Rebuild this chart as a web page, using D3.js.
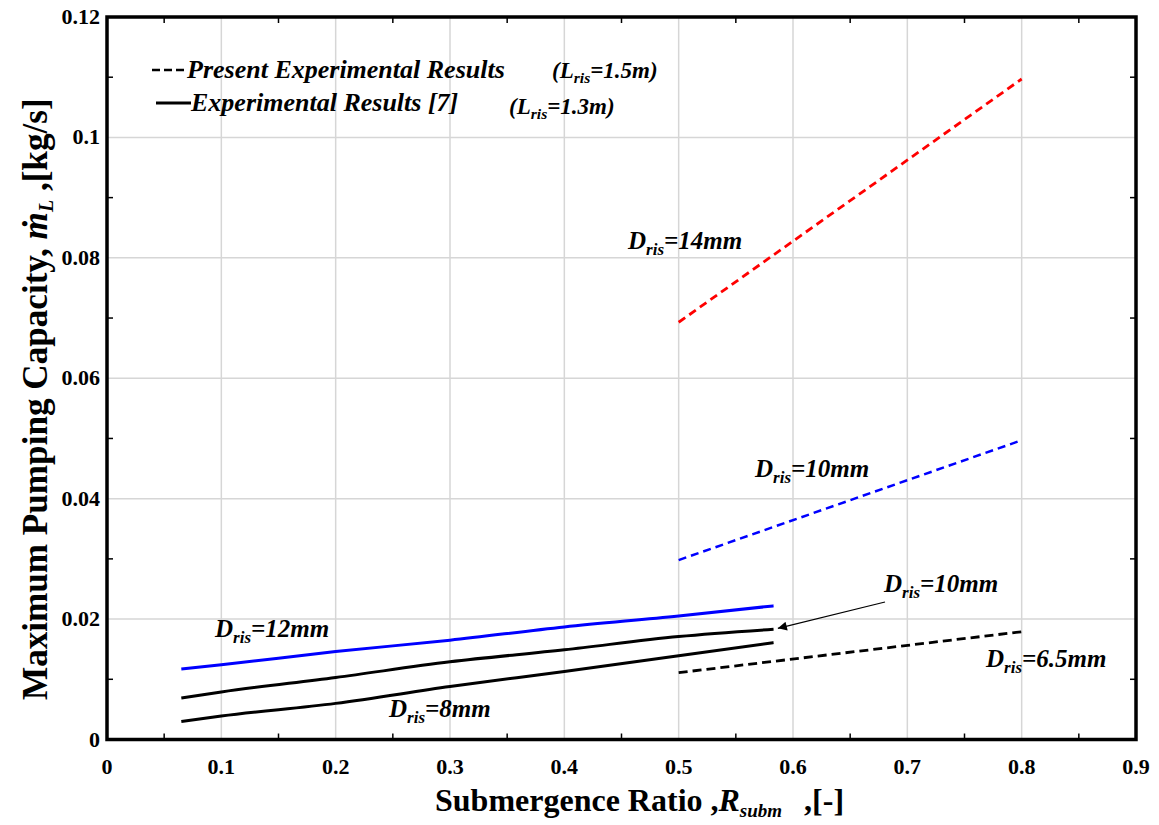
<!DOCTYPE html>
<html>
<head>
<meta charset="utf-8">
<script src="https://cdn.jsdelivr.net/npm/d3@7"></script>
<style>
  body { margin: 0; background: #fff; }
</style>
</head>
<body>
<div id="chart"></div>
<script>
// experimental results [7], Lris = 1.3m (solid lines)
var xSolid = [0.065, 0.1, 0.2, 0.3, 0.4, 0.5, 0.583];
var d12Solid = [0.0117, 0.0124, 0.0146, 0.0165, 0.0187, 0.0205, 0.0222];
var d10Solid = [0.0069, 0.0079, 0.0103, 0.0129, 0.0149, 0.0171, 0.0183];
var d8Solid = [0.0030, 0.0039, 0.0060, 0.0088, 0.0113, 0.0139, 0.0161];

// present experimental results, Lris = 1.5m (dashed lines)
var xDash = [0.5, 0.8];
var d14Dash = [0.0693, 0.1097];
var d10Dash = [0.0298, 0.0497];
var d65Dash = [0.0111, 0.0179];

var xTicks = [0, 0.1, 0.2, 0.3, 0.4, 0.5, 0.6, 0.7, 0.8, 0.9];
var yTicks = [0, 0.02, 0.04, 0.06, 0.08, 0.1, 0.12];
var yTickLabels = ["0", "0.02", "0.04", "0.06", "0.08", "0.1", "0.12"];

var FONT = "Liberation Serif";

var W = 1159, H = 825;
var margin = { top: 17, right: 23, bottom: 85.5, left: 107 };
var width = W - margin.left - margin.right,
    height = H - margin.top - margin.bottom;

var svg = d3.select("#chart").append("svg")
    .attr("width", W).attr("height", H);
var g = svg.append("g")
    .attr("transform", "translate(" + margin.left + "," + margin.top + ")");

var x = d3.scaleLinear().domain([0, 0.9]).range([0, width]);
var y = d3.scaleLinear().domain([0, 0.12]).range([height, 0]);

// bold serif text, set on every element
function txt(parent, px, py, size) {
    return parent.append("text").attr("x", px).attr("y", py)
        .attr("font-family", FONT).attr("font-weight", "bold")
        .attr("font-size", size);
}

// grid
g.append("g").selectAll("line").data(xTicks.slice(1, -1)).enter().append("line")
    .attr("x1", d => x(d)).attr("x2", d => x(d))
    .attr("y1", 0).attr("y2", height)
    .attr("stroke", "#d6d6d6").attr("stroke-width", 1.5);
g.append("g").selectAll("line").data(yTicks.slice(1, -1)).enter().append("line")
    .attr("y1", d => y(d)).attr("y2", d => y(d))
    .attr("x1", 0).attr("x2", width)
    .attr("stroke", "#d6d6d6").attr("stroke-width", 1.5);

// inner minor ticks on all four sides
var xMinor = d3.range(0.05, 0.9, 0.1);
var yMinor = d3.range(0.01, 0.12, 0.02);
var tk = g.append("g").attr("stroke", "#000").attr("stroke-width", 1.5);
xMinor.forEach(function (v) {
    tk.append("line").attr("x1", x(v)).attr("x2", x(v)).attr("y1", height).attr("y2", height - 6);
    tk.append("line").attr("x1", x(v)).attr("x2", x(v)).attr("y1", 0).attr("y2", 6);
});
yMinor.forEach(function (v) {
    tk.append("line").attr("y1", y(v)).attr("y2", y(v)).attr("x1", 0).attr("x2", 6);
    tk.append("line").attr("y1", y(v)).attr("y2", y(v)).attr("x1", width).attr("x2", width - 6);
});

// tick labels
xTicks.forEach(function (d) {
    txt(g, x(d), height + 34, 22).attr("text-anchor", "middle").text(d);
});
yTicks.forEach(function (d, i) {
    txt(g, -7, y(d) + 7, 22).attr("text-anchor", "end").text(yTickLabels[i]);
});

// lines
function zip(xs, ys) { return xs.map((v, i) => [v, ys[i]]); }
var line = d3.line().curve(d3.curveMonotoneX).x(d => x(d[0])).y(d => y(d[1]));

var series = [
    { data: zip(xDash, d14Dash), color: "#ff0000", dash: "8,5", w: 2.8 },
    { data: zip(xDash, d10Dash), color: "#0000ff", dash: "8,5", w: 2.5 },
    { data: zip(xDash, d65Dash), color: "#000", dash: "9,5", w: 2.8 },
    { data: zip(xSolid, d12Solid), color: "#0000ff", dash: null, w: 3 },
    { data: zip(xSolid, d10Solid), color: "#000", dash: null, w: 3 },
    { data: zip(xSolid, d8Solid), color: "#000", dash: null, w: 3 }
];
series.forEach(function (s) {
    g.append("path").datum(s.data)
        .attr("fill", "none").attr("stroke", s.color)
        .attr("stroke-width", s.w)
        .attr("stroke-dasharray", s.dash)
        .attr("d", line);
});

// frame
g.append("rect").attr("x", 0).attr("y", 0).attr("width", width).attr("height", height)
    .attr("fill", "none").attr("stroke", "#000").attr("stroke-width", 3.5);

// labels with subscript
function subLabel(px, py, main, sub, rest, size) {
    var t = txt(svg, px, py, size).attr("font-style", "italic");
    t.append("tspan").text(main);
    t.append("tspan").attr("font-size", size * 0.68).attr("dy", size * 0.22).text(sub);
    t.append("tspan").attr("dy", -size * 0.22).text(rest);
    return t;
}
subLabel(628, 249, "D", "ris", "=14mm", 25);
subLabel(755, 477, "D", "ris", "=10mm", 25);
subLabel(884, 592, "D", "ris", "=10mm", 25);
subLabel(986, 667, "D", "ris", "=6.5mm", 25);
subLabel(215, 637, "D", "ris", "=12mm", 25);
subLabel(389, 717, "D", "ris", "=8mm", 25);

// arrow to the 10mm solid curve
svg.append("defs").append("marker").attr("id", "arr")
    .attr("viewBox", "0 0 10 10").attr("refX", 10).attr("refY", 5)
    .attr("markerWidth", 12).attr("markerHeight", 9).attr("markerUnits", "userSpaceOnUse")
    .attr("orient", "auto")
    .append("path").attr("d", "M0,0 L10,5 L0,10 z").attr("fill", "#000");
svg.append("line")
    .attr("x1", 885).attr("y1", 602)
    .attr("x2", x(0.585) + margin.left + 2).attr("y2", y(0.0183) + margin.top - 1)
    .attr("stroke", "#000").attr("stroke-width", 1.2)
    .attr("marker-end", "url(#arr)");

// legend
svg.append("line").attr("x1", 152).attr("x2", 186).attr("y1", 70).attr("y2", 70)
    .attr("stroke", "#000").attr("stroke-width", 2.5).attr("stroke-dasharray", "8,4");
svg.append("line").attr("x1", 156).attr("x2", 191).attr("y1", 103).attr("y2", 103)
    .attr("stroke", "#000").attr("stroke-width", 3);
txt(svg, 187, 78, 26).attr("font-style", "italic").text("Present Experimental Results");
txt(svg, 191, 111, 26).attr("font-style", "italic").text("Experimental Results [7]");
subLabel(552, 78, "(L", "ris", "=1.5m)", 23);
subLabel(509, 114, "(L", "ris", "=1.3m)", 23);

// x axis title, fitted to span 435..848
var xt = txt(svg, 435, 811, 28);
xt.append("tspan").text("Submergence Ratio ,");
xt.append("tspan").attr("font-style", "italic").text("R");
xt.append("tspan").attr("font-style", "italic").attr("font-size", 19).attr("dy", 6).text("subm");
xt.append("tspan").attr("dy", -6).attr("dx", 22).text(",[-]");
var xw = xt.node().getComputedTextLength();
xt.attr("font-size", Math.min(32, 28 * 413 / xw));

// y axis title, fitted to span y 700..95
var yt = txt(svg, 0, 0, 28).attr("transform", "translate(47,700) rotate(-90)");
yt.append("tspan").text("Maximum Pumping Capacity, ");
yt.append("tspan").attr("font-style", "italic").text("ṁ");
yt.append("tspan").attr("font-style", "italic").attr("font-size", 20).attr("dy", 6).text("L");
yt.append("tspan").attr("dy", -6).text(" ,[kg/s]");
var yw = yt.node().getComputedTextLength();
yt.attr("font-size", Math.min(36, 28 * 605 / yw));
</script>
</body>
</html>
